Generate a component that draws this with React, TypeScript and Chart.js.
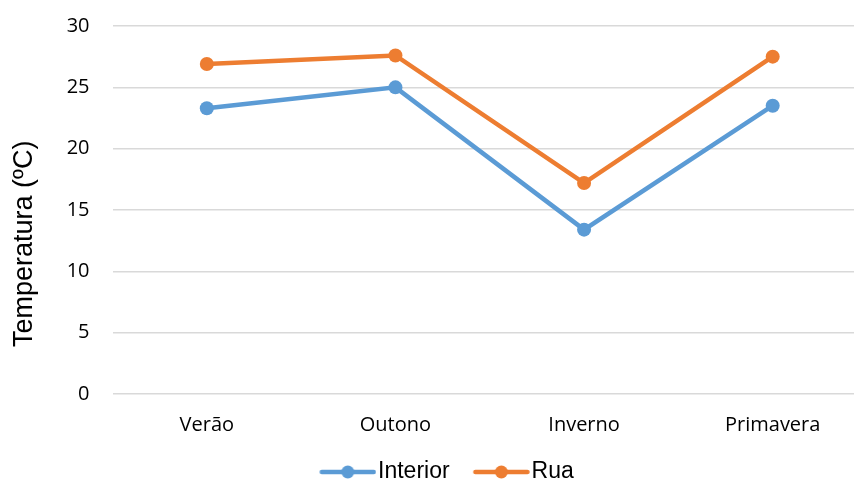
import React, { useEffect, useRef } from "react";
import { Chart, registerables } from "chart.js";

Chart.register(...registerables);

const categories = ["Verão", "Outono", "Inverno", "Primavera"];
const interiorValues = [23.3, 25.0, 13.4, 23.5];
const ruaValues = [26.9, 27.6, 17.2, 27.5];
const yTicks = [0, 5, 10, 15, 20, 25, 30];
const seriesNames = ["Interior", "Rua"];
const seriesColors = ["#5B9BD5", "#ED7D31"];
const yTitle = "Temperatura (ºC)";

// legend icon: transparent left margin + line with a dot in the middle
function makeLegendIcon(color: string): HTMLCanvasElement {
  const margin = 23.5;
  const c = document.createElement("canvas");
  c.width = 80;
  c.height = 16;
  const ctx = c.getContext("2d")!;
  ctx.strokeStyle = color;
  ctx.lineWidth = 4.5;
  ctx.lineCap = "round";
  ctx.beginPath();
  ctx.moveTo(margin + 2, 8);
  ctx.lineTo(margin + 54, 8);
  ctx.stroke();
  ctx.fillStyle = color;
  ctx.beginPath();
  ctx.arc(margin + 28, 8, 6.5, 0, Math.PI * 2);
  ctx.fill();
  return c;
}

export default function App() {
  const ref = useRef<HTMLCanvasElement | null>(null);

  useEffect(() => {
    if (!ref.current) return;
    const icons = seriesColors.map(makeLegendIcon);
    const chart = new Chart(ref.current, {
      type: "line",
      data: {
        labels: categories,
        datasets: [
          {
            label: seriesNames[0],
            data: interiorValues,
            borderColor: seriesColors[0],
            backgroundColor: seriesColors[0],
            borderWidth: 4.5,
            pointRadius: 7,
            pointBorderWidth: 0,
            pointBackgroundColor: seriesColors[0],
            tension: 0,
          },
          {
            label: seriesNames[1],
            data: ruaValues,
            borderColor: seriesColors[1],
            backgroundColor: seriesColors[1],
            borderWidth: 4.5,
            pointRadius: 7,
            pointBorderWidth: 0,
            pointBackgroundColor: seriesColors[1],
            tension: 0,
          },
        ],
      },
      options: {
        responsive: false,
        animation: false,
        layout: {
          autoPadding: false,
          padding: { left: 12.8, right: 0, top: 26, bottom: -6.5 },
        },
        plugins: {
          tooltip: { enabled: false },
          legend: {
            position: "bottom",
            align: "center",
            labels: {
              usePointStyle: true,
              pointStyleWidth: 60.5,
              padding: 10,
              color: "#000",
              font: { family: "'Liberation Sans', Arial, sans-serif", size: 23 },
              generateLabels: (ch: any) =>
                ch.data.datasets.map((ds: any, i: number) => ({
                  text: ds.label,
                  pointStyle: icons[i],
                  fillStyle: ds.borderColor,
                  strokeStyle: ds.borderColor,
                  lineWidth: 0,
                  hidden: false,
                  datasetIndex: i,
                  fontColor: "#000",
                })),
            },
          },
        },
        scales: {
          x: {
            type: "category",
            offset: true,
            grid: { display: false, drawTicks: true, tickLength: 19 },
            border: { display: false },
            ticks: {
              color: "#000",
              padding: 0,
              font: { family: "'Open Sans', sans-serif", size: 20 },
            },
            afterFit: (scale: any) => {
              scale.height = 56.5;
            },
          },
          y: {
            min: 0,
            max: 30,
            afterBuildTicks: (scale: any) => {
              scale.ticks = yTicks.map((v) => ({ value: v }));
            },
            grid: {
              color: "#D9D9D9",
              lineWidth: 1.5,
              drawTicks: true,
              tickLength: 23,
              tickColor: "rgba(0,0,0,0)",
            },
            border: { display: false },
            ticks: {
              color: "#000",
              padding: 0,
              font: { family: "'Open Sans', sans-serif", size: 20 },
            },
            title: {
              display: true,
              text: yTitle + "         ",
              color: "#000",
              padding: { top: -4, bottom: 0 },
              font: { family: "'Liberation Sans', Arial, sans-serif", size: 27 },
            },
            afterFit: (scale: any) => {
              scale.width = 99.7;
            },
          },
        },
      },
    });
    return () => chart.destroy();
  }, []);

  return (
    <div
      style={{
        position: "fixed",
        left: 0,
        top: 0,
        width: 854,
        height: 487,
        overflow: "hidden",
        background: "#fff",
      }}
    >
      <canvas ref={ref} width={867} height={487} style={{ display: "block" }} />
    </div>
  );
}
